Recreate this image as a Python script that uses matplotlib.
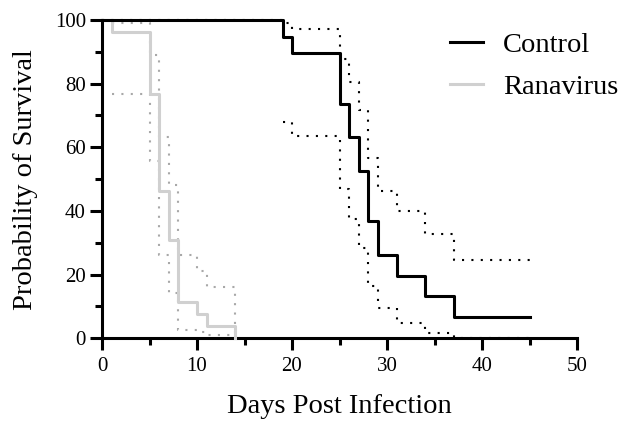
import matplotlib
matplotlib.use("Agg")
import matplotlib.pyplot as plt

# Kaplan-Meier survival (%) by day post infection
control_days = [0, 19, 20, 25, 26, 27, 28, 29, 31, 34, 37, 45]
control_surv = [100, 94.7, 89.5, 73.7, 63.2, 52.6, 36.8, 26.3, 19.7, 13.2, 6.6, 6.6]
control_hi = [100, 99.0, 97.1, 87.9, 80.5, 71.6, 56.8, 46.3, 40.0, 32.8, 24.7, 24.7]
control_lo_days = [19, 20, 25, 26, 27, 28, 29, 31, 34, 37, 45]
control_lo = [67.9, 63.4, 46.8, 37.4, 28.4, 16.3, 9.5, 4.7, 1.6, 0.2, 0.2]

rana_days = [0, 1, 5, 6, 7, 8, 10, 11, 14]
rana_surv = [100, 96.2, 76.9, 46.2, 30.8, 11.5, 7.7, 3.8, 0]
rana_ci_days = [1, 5, 6, 7, 8, 10, 11, 14]
rana_hi = [99.0, 89.0, 63.2, 48.2, 26.3, 21.0, 16.0, 0]
rana_lo = [76.8, 55.8, 26.3, 14.2, 2.6, 1.9, 1.0, 0.3]

plt.rcParams["font.family"] = ["Liberation Serif", "DejaVu Serif"]

fig = plt.figure(figsize=(6.23, 4.28), dpi=100)
ax = fig.add_axes([102 / 623, 1 - 338.3 / 428, 475 / 623, 318.3 / 428])

grey = "#d0d0d0"
grey_dots = "#a8a8a8"
dots = (0, (1, 3.5))

# confidence bands (dotted)
ax.step(rana_ci_days, rana_hi, where="post", color=grey_dots, lw=1.5, ls=dots, clip_on=False, zorder=2)
ax.step(rana_ci_days, rana_lo, where="post", color=grey_dots, lw=1.5, ls=dots, clip_on=False, zorder=2)
ax.step(control_days, control_hi, where="post", color="black", lw=1.5, ls=dots, clip_on=False, zorder=2)
ax.step(control_lo_days, control_lo, where="post", color="black", lw=1.5, ls=dots, clip_on=False, zorder=2)

# survival curves
ax.step(rana_days, rana_surv, where="post", color=grey, lw=2.2, clip_on=False, zorder=3, label="Ranavirus")
ax.step(control_days, control_surv, where="post", color="black", lw=2.2, clip_on=False, zorder=4, label="Control")

ax.set_xlim(0, 50)
ax.set_ylim(0, 100)
ax.set_xticks(range(0, 51, 10))
ax.set_xticks(range(5, 50, 10), minor=True)
ax.set_yticks(range(0, 101, 20))
ax.set_yticks(range(10, 100, 20), minor=True)

for side in ["top", "right"]:
    ax.spines[side].set_visible(False)
for side in ["left", "bottom"]:
    ax.spines[side].set_linewidth(2.2)

ax.tick_params(which="major", direction="out", length=8.6, width=2.2, labelsize=15, color="black")
ax.tick_params(which="minor", direction="out", length=5, width=2.2)
ax.tick_params(axis="x", which="major", pad=5)
ax.tick_params(axis="y", which="major", pad=3)

ax.set_xlabel("Days Post Infection", fontsize=20.5, labelpad=13)
ax.set_ylabel("Probability of Survival", fontsize=20.5, labelpad=12)

handles, labels = ax.get_legend_handles_labels()
ax.legend(handles[::-1], labels[::-1], loc="upper left", bbox_to_anchor=(0.733, 0.962),
          frameon=False, fontsize=20.5, handlelength=1.16, handletextpad=0.7,
          borderpad=0, borderaxespad=0, labelspacing=0.55)

fig.savefig("out.png", dpi=100)
